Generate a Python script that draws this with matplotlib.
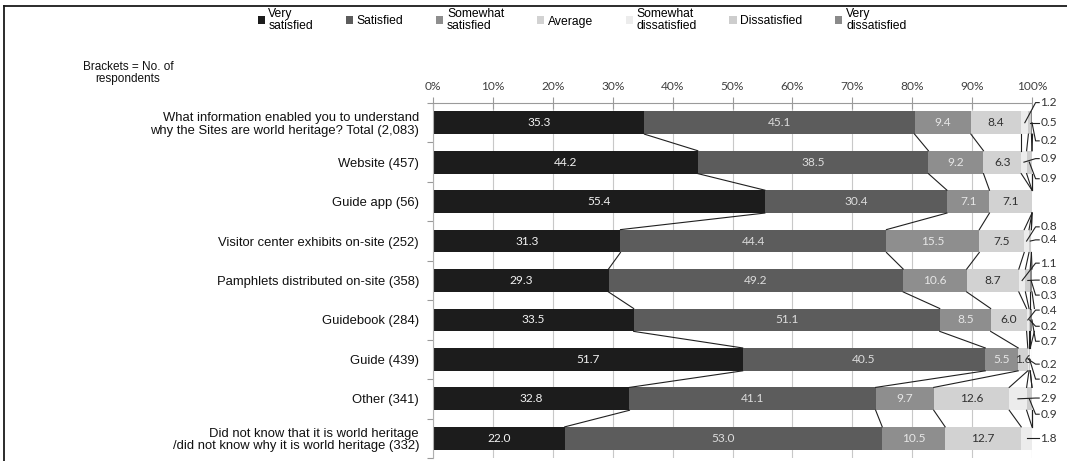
import matplotlib
matplotlib.use("Agg")
import matplotlib.pyplot as plt
from matplotlib.lines import Line2D
import numpy as np

# ---- data -----------------------------------------------------------------
categories = [
    "What information enabled you to understand\nwhy the Sites are world heritage? Total (2,083)",
    "Website (457)",
    "Guide app (56)",
    "Visitor center exhibits on-site (252)",
    "Pamphlets distributed on-site (358)",
    "Guidebook (284)",
    "Guide (439)",
    "Other (341)",
    "Did not know that it is world heritage\n/did not know why it is world heritage (332)",
]
series_names = ["Very\nsatisfied", "Satisfied", "Somewhat\nsatisfied", "Average",
                "Somewhat\ndissatisfied", "Dissatisfied", "Very\ndissatisfied"]

very_satisfied = [35.3, 44.2, 55.4, 31.3, 29.3, 33.5, 51.7, 32.8, 22.0]
satisfied = [45.1, 38.5, 30.4, 44.4, 49.2, 51.1, 40.5, 41.1, 53.0]
somewhat_satisfied = [9.4, 9.2, 7.1, 15.5, 10.6, 8.5, 5.5, 9.7, 10.5]
average = [8.4, 6.3, 7.1, 7.5, 8.7, 6.0, 1.6, 12.6, 12.7]
somewhat_dissatisfied = [1.2, 0.9, 0.0, 0.8, 1.1, 0.4, 0.2, 2.9, 1.8]
dissatisfied = [0.5, 0.9, 0.0, 0.4, 0.8, 0.2, 0.2, 0.9, 0.0]
very_dissatisfied = [0.2, 0.0, 0.0, 0.0, 0.3, 0.7, 0.0, 0.0, 0.0]

x_ticks = [0, 10, 20, 30, 40, 50, 60, 70, 80, 90, 100]
x_tick_labels = ["0%", "10%", "20%", "30%", "40%", "50%", "60%", "70%", "80%", "90%", "100%"]

# ---- styling ----------------------------------------------------------------
colors = ["#1c1c1c", "#5c5c5c", "#8e8e8e", "#d2d2d2", "#ececec", "#cdcdcd", "#8a8a8a"]
inside_text_colors = ["#f2f2f2", "#dcdcdc", "#e6e6e6", "#303030"]
# vertical positions (in category units) of the outside labels for the small shares
outside_label_y = [-0.51, 0.0, 0.46, 0.91, 1.42, 2.64, 2.97, 3.56, 3.99, 4.37,
                   4.75, 5.16, 5.54, 6.12, 6.50, 6.98, 7.39, 8.0]

label_font = ["Liberation Sans", "DejaVu Sans"]
num_font = ["Lato", "DejaVu Sans"]

W, H = 1067, 461
fig = plt.figure(figsize=(W / 100, H / 100), dpi=100)
ax = fig.add_axes([433 / W, 1 - 458 / H, 599 / W, 355 / H])

series = [very_satisfied, satisfied, somewhat_satisfied, average,
          somewhat_dissatisfied, dissatisfied, very_dissatisfied]
data = np.array(series)            # shape (7, 9)
ypos = np.arange(len(categories))
bar_h = 0.58
left = np.zeros(len(categories))
containers = []
for s, vals in enumerate(series):
    c = ax.barh(ypos, vals, left=left, height=bar_h, color=colors[s],
                edgecolor="none", label=series_names[s], zorder=2)
    containers.append(c)
    left = left + np.array(vals)

cum = np.cumsum(data, axis=0)       # right edge of each segment
starts = cum - data

# series lines joining matching segment boundaries of neighbouring bars
for s in range(len(series)):
    for i in range(len(categories) - 1):
        ax.plot([cum[s, i], cum[s, i + 1]],
                [i + bar_h / 2, i + 1 - bar_h / 2],
                color="#202020", lw=0.8, zorder=3, clip_on=False)

# values inside the larger segments
for s in range(4):
    for i in range(len(categories)):
        v = data[s, i]
        if v <= 0:
            continue
        ax.text(starts[s, i] + v / 2, i, f"{v:.1f}", ha="center", va="center",
                fontsize=8.6, family=num_font, color=inside_text_colors[s], zorder=4)

# small shares: labels outside the bar with leader lines
k = 0
for i in range(len(categories)):
    for s in range(4, 7):
        v = data[s, i]
        if v <= 0:
            continue
        ly = outside_label_y[k]
        k += 1
        xc = min(starts[s, i] + v / 2, 100)
        ax.plot([xc, 100.6, 101.2], [i, ly, ly], color="#202020", lw=0.8,
                zorder=3, clip_on=False)
        ax.text(101.4, ly, f"{v:.1f}", ha="left", va="center", fontsize=8.6,
                family=num_font, color="#333333", clip_on=False)

# axes
ax.set_xlim(0, 100)
ax.set_ylim(len(categories) - 0.5, -0.5)
ax.xaxis.tick_top()
ax.set_xticks(x_ticks)
ax.set_xticklabels(x_tick_labels, family=num_font, fontsize=8.6, color="#404040")
ax.tick_params(axis="x", direction="inout", length=8, width=0.8, color="#9a9a9a", pad=4)
ax.grid(axis="x", color="#c8c8c8", lw=0.8, zorder=0)
ax.set_axisbelow(True)

ax.set_yticks(ypos)
ax.set_yticklabels(categories, family=label_font, fontsize=9.4, color="#111111",
                   ha="right")
ax.tick_params(axis="y", length=0, pad=10)
ax.set_yticks(np.arange(-0.5, len(categories), 1.0), minor=True)
ax.tick_params(axis="y", which="minor", length=4, width=0.8, color="#9a9a9a", direction="out")
for lbl in ax.get_yticklabels():
    lbl.set_linespacing(1.05)

for side in ("right", "bottom"):
    ax.spines[side].set_visible(False)
ax.spines["top"].set_color("#9a9a9a")
ax.spines["top"].set_linewidth(0.8)
ax.spines["left"].set_color("#b0b0b0")
ax.spines["left"].set_linewidth(0.8)

# legend
leg = fig.legend(handles=containers, labels=series_names, loc="center",
                 bbox_to_anchor=(582 / W, 1 - 20 / H), ncol=7, frameon=False,
                 prop={"family": label_font, "size": 8.7},
                 handlelength=0.6, handleheight=0.6, handletextpad=0.3,
                 columnspacing=2.7, borderpad=0)
for t in leg.get_texts():
    t.set_linespacing(0.95)

fig.text(128 / W, 1 - 73 / H, "Brackets = No. of\nrespondents", ha="center", va="center",
         family=label_font, fontsize=8.5, color="#111111", linespacing=1.05)

# chart frame (left and top edges)
fig.add_artist(Line2D([4 / W, 4 / W], [0, 1 - 6 / H], transform=fig.transFigure,
                      color="#1a1a1a", lw=1.3))
fig.add_artist(Line2D([4 / W, 1], [1 - 6 / H, 1 - 6 / H], transform=fig.transFigure,
                      color="#1a1a1a", lw=1.3))

fig.savefig("out.png", dpi=100, facecolor="white")
